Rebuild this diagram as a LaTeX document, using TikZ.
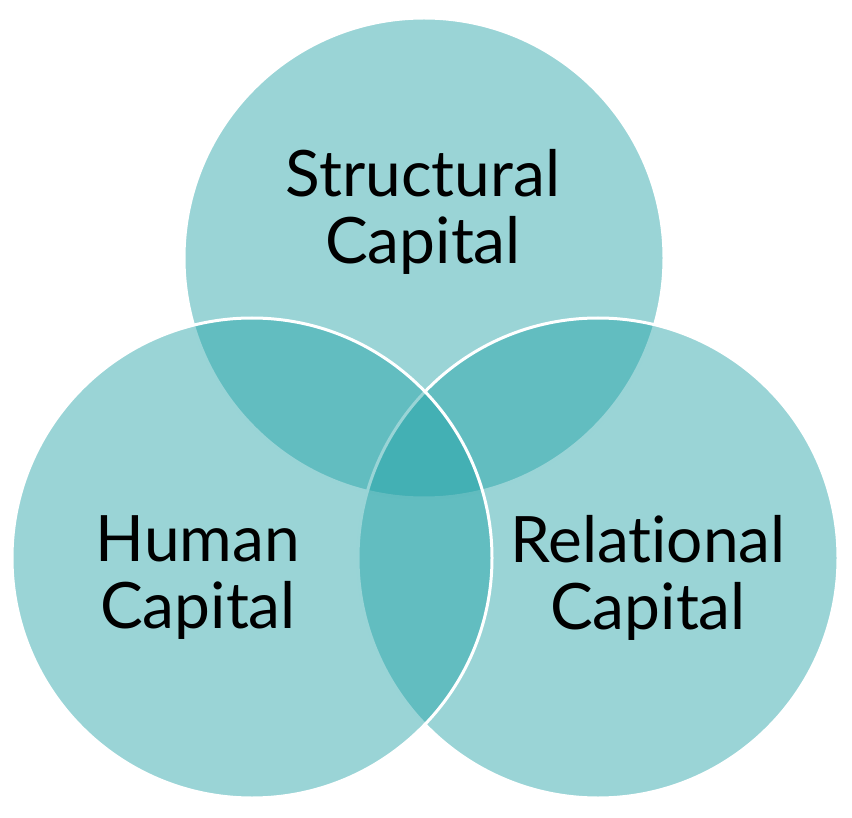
\documentclass[tikz,border=0pt]{standalone}
\usepackage{fontspec}
\setmainfont{Lato}[Ligatures=NoCommon]
\definecolor{teal}{RGB}{30,160,165}
\begin{document}
\begin{tikzpicture}[x=1pt,y=-1pt,
  venn/.style={circle,minimum size=480pt,inner sep=0pt,fill=teal,fill opacity=0.45,draw=white,draw opacity=1,line width=3pt},
  lbl/.style={align=center,text=black,font=\fontsize{64}{67}\selectfont,inner sep=0pt,text opacity=1}]
\useasboundingbox (0,0) rectangle (852,818);
\node[venn] (top) at (424,258) {};
\node[venn] (right) at (598,558) {};
\node[venn] (left) at (252,558) {};
\node[lbl] (ts) at (423,212) {Structural\\Capital};
\node[lbl] (tl) at (198,578) {Human\\Capital};
\node[lbl] (tr) at (648,578) {Relational\\Capital};
\end{tikzpicture}
\end{document}
